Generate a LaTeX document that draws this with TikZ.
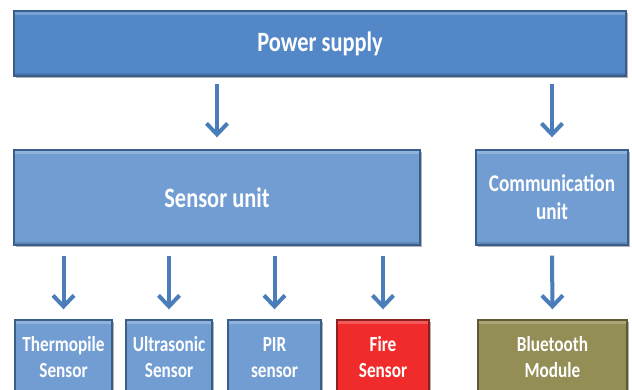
\documentclass[tikz,border=0pt]{standalone}
\usepackage{fontspec}
\usepackage{graphicx}
\setmainfont{Carlito}
\usetikzlibrary{arrows.meta,shadows}
\definecolor{pwr}{HTML}{5387C7}
\definecolor{lblue}{HTML}{729DD3}
\definecolor{bord}{HTML}{3A5E8C}
\definecolor{fire}{HTML}{F02B2B}
\definecolor{firebord}{HTML}{8E2020}
\definecolor{olive}{HTML}{938E55}
\definecolor{olivebord}{HTML}{5E5A32}
\definecolor{arrc}{HTML}{4A7DBA}
\newcommand\nx[1]{\scalebox{0.8}[1]{#1}}
\tikzset{
  blk/.style={rectangle, draw=bord, line width=1.4pt, fill=lblue, text=white,
    font=\bfseries, align=center, inner sep=0pt,
    drop shadow={shadow xshift=1.5pt, shadow yshift=-2pt, opacity=0.3, fill=black},
    path picture={\fill[white,opacity=0.22] (path picture bounding box.north west) rectangle ([yshift=-4pt]path picture bounding box.north east);
                  \fill[black,opacity=0.12] (path picture bounding box.south west) rectangle ([yshift=3pt]path picture bounding box.south east);}},
  arr/.style={draw=arrc, line width=4pt, -{Straight Barb[length=11pt,width=21pt]}}
}
\begin{document}
\begin{tikzpicture}[x=1pt,y=-1pt]
\useasboundingbox (0,0) rectangle (632,390);
\node[blk, fill=pwr, minimum width=612pt, minimum height=65pt, font=\bfseries\fontsize{28}{30}\selectfont] (power) at (320,43.5) {\nx{Power supply}};
\node[blk, minimum width=406pt, minimum height=95pt, font=\bfseries\fontsize{28}{30}\selectfont] (sensor) at (217,197.5) {\nx{Sensor unit}};
\node[blk, minimum width=152pt, minimum height=95pt, font=\bfseries\fontsize{24}{28}\selectfont] (comm) at (552,197.5) {\nx{Communication}\\\nx{unit}};
\tikzset{small/.style={blk, minimum height=75pt, font=\bfseries\fontsize{21.5}{26}\selectfont}}
\node[small, minimum width=97pt] (thermo) at (63.5,357.5) {\nx{Thermopile}\\\nx{Sensor}};
\node[small, minimum width=86pt] (ultra) at (169,357.5) {\nx{Ultrasonic}\\\nx{Sensor}};
\node[small, minimum width=93pt] (pir) at (274.5,357.5) {\nx{PIR}\\\nx{sensor}};
\node[small, minimum width=92pt, fill=fire, draw=firebord] (fires) at (383,357.5) {\nx{Fire}\\\nx{Sensor}};
\node[small, minimum width=149pt, fill=olive, draw=olivebord] (bt) at (552.5,357.5) {\nx{Bluetooth}\\\nx{Module}};
\draw[arr] ([yshift=-7pt]power.south -| sensor) -- ([yshift=12pt]sensor.north);
\draw[arr] ([yshift=-7pt]power.south -| comm) -- ([yshift=12pt]comm.north);
\draw[arr] ([yshift=-10pt]sensor.south -| thermo) -- ([yshift=10pt]thermo.north);
\draw[arr] ([yshift=-10pt]sensor.south -| ultra) -- ([yshift=10pt]ultra.north);
\draw[arr] ([yshift=-10pt]sensor.south -| pir) -- ([yshift=10pt]pir.north);
\draw[arr] ([yshift=-10pt]sensor.south -| fires) -- ([yshift=10pt]fires.north);
\draw[arr] ([yshift=-10pt]comm.south) -- ([yshift=10pt]bt.north);
\end{tikzpicture}
\end{document}
